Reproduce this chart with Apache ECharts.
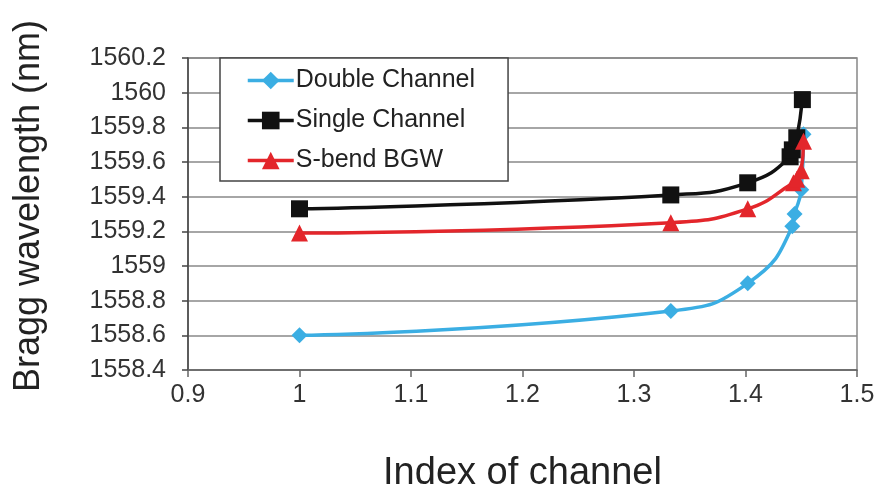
<!DOCTYPE html>
<html>
<head>
<meta charset="utf-8">
<script src="https://cdn.jsdelivr.net/npm/echarts@6/dist/echarts.min.js"></script>
<style>
  html, body { margin: 0; padding: 0; background: #fff; }
  #chart { width: 878px; height: 494px; }
</style>
</head>
<body>
<div id="chart"></div>
<script>
// Refractive index of channel vs. Bragg wavelength for three waveguide layouts
const doubleX = [1, 1.333, 1.402, 1.442, 1.444, 1.450, 1.452];
const doubleY = [1558.60, 1558.74, 1558.90, 1559.23, 1559.30, 1559.44, 1559.76];

const singleX = [1, 1.333, 1.402, 1.440, 1.442, 1.446, 1.451];
const singleY = [1559.33, 1559.41, 1559.48, 1559.63, 1559.67, 1559.74, 1559.96];

const sbendX = [1, 1.333, 1.402, 1.443, 1.446, 1.450, 1.452];
const sbendY = [1559.19, 1559.25, 1559.33, 1559.48, 1559.50, 1559.55, 1559.72];

const seriesNames = ['Double Channel', 'Single Channel', 'S-bend BGW'];
const xTicks = [0.9, 1.0, 1.1, 1.2, 1.3, 1.4, 1.5];
const yTicks = [1558.4, 1558.6, 1558.8, 1559.0, 1559.2, 1559.4, 1559.6, 1559.8, 1560.0, 1560.2];

const pairs = (xs, ys) => xs.map((x, i) => [x, ys[i]]);

const font = 'Liberation Sans, Arial, sans-serif';
const chart = echarts.init(document.getElementById('chart'));

function line(name, data, color, symbol, size) {
  return {
    name: name,
    type: 'line',
    data: data,
    smooth: 0.5,
    symbol: symbol,
    symbolSize: size,
    lineStyle: { color: color, width: 3.5 },
    itemStyle: { color: color },
    z: 3
  };
}

function tickText(list, v) {
  const t = list.find(x => Math.abs(x - v) < 1e-6);
  if (t === undefined) return '';
  const r = Math.round(t * 10) / 10;
  return Number.isInteger(r) ? String(r) : r.toFixed(1);
}

chart.setOption({
  animation: false,
  backgroundColor: '#fff',
  grid: {
    left: 188, right: 21, top: 58, bottom: 124,
    outerBoundsMode: 'none',
    containLabel: false,
    show: true, borderColor: '#888', borderWidth: 1.5
  },
  legend: {
    orient: 'vertical',
    left: 220, top: 58,
    padding: [10, 33, 8, 26],
    itemWidth: 46, itemHeight: 22, itemGap: 15,
    backgroundColor: '#fff',
    borderColor: '#444', borderWidth: 1.5,
    lineStyle: { width: 3.5 },
    textStyle: { fontFamily: font, fontSize: 25, color: '#222', padding: [0, 0, 0, -3] },
    data: seriesNames,
    z: 10
  },
  xAxis: {
    type: 'value',
    min: xTicks[0], max: xTicks[xTicks.length - 1], interval: 0.1,
    name: 'Index of channel',
    nameLocation: 'middle',
    nameGap: 85,
    nameTextStyle: { fontFamily: font, fontSize: 38, color: '#222' },
    axisLine: { show: true, lineStyle: { color: '#666', width: 1.5 } },
    axisTick: { show: true, length: 7, inside: false, lineStyle: { color: '#666', width: 1.5 } },
    axisLabel: {
      fontFamily: font, fontSize: 25, color: '#333', margin: 13,
      formatter: v => tickText(xTicks, v)
    },
    splitLine: { show: false }
  },
  yAxis: {
    type: 'value',
    min: yTicks[0], max: yTicks[yTicks.length - 1], interval: 0.2,
    name: 'Bragg wavelength (nm)',
    nameLocation: 'middle',
    nameRotate: 90,
    nameGap: 141,
    nameTextStyle: { fontFamily: font, fontSize: 36, color: '#222', padding: [0, 0, 0, 16] },
    axisLine: { show: true, lineStyle: { color: '#444', width: 1.5 } },
    axisTick: { show: true, length: 6, inside: false, lineStyle: { color: '#444', width: 1.5 } },
    axisLabel: {
      fontFamily: font, fontSize: 25, color: '#333', margin: 22,
      formatter: v => tickText(yTicks, v)
    },
    splitLine: { show: true, lineStyle: { color: '#888', width: 1.5 } }
  },
  series: [
    line(seriesNames[0], pairs(doubleX, doubleY), '#3BAEE3', 'diamond', 16),
    line(seriesNames[1], pairs(singleX, singleY), '#111111', 'rect', 17),
    line(seriesNames[2], pairs(sbendX, sbendY), '#E3262B', 'triangle', 17)
  ]
});
</script>
</body>
</html>
